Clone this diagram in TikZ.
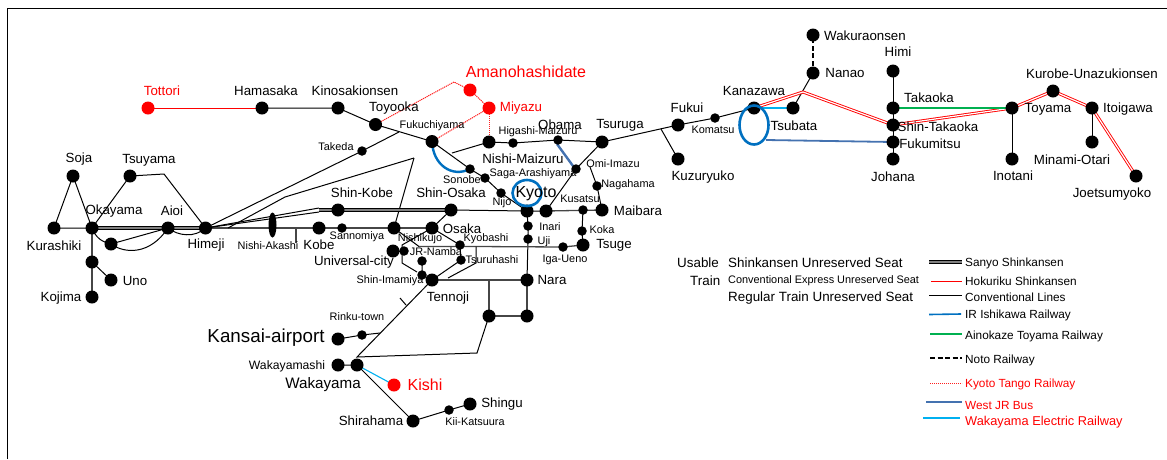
\documentclass[tikz,border=0pt]{standalone}
\usepackage{fontspec}
\setmainfont{Liberation Sans}
\usetikzlibrary{shapes.geometric,backgrounds}
\definecolor{tangored}{RGB}{255,30,30}
\definecolor{ishi}{RGB}{0,112,192}
\definecolor{aino}{RGB}{0,176,80}
\definecolor{wjr}{RGB}{68,114,176}
\definecolor{wakae}{RGB}{0,176,240}
\definecolor{greyline}{RGB}{70,70,70}
\tikzset{
  stbig/.style={circle,fill=black,inner sep=0pt,minimum size=13pt},
  stsmall/.style={circle,fill=black,inner sep=0pt,minimum size=9.5pt},
  stred/.style={circle,fill=red,inner sep=0pt,minimum size=13pt},
  lab/.style={inner sep=0pt,font=\fontsize{13.3}{14}\selectfont},
  labs/.style={inner sep=0pt,font=\fontsize{10.9}{12}\selectfont},
  labb/.style={inner sep=0pt,font=\fontsize{16}{18}\selectfont},
  labr/.style={text=red},
  leg/.style={inner sep=0pt,anchor=west,font=\fontsize{11.8}{13}\selectfont},
  legb/.style={inner sep=0pt,anchor=west,font=\fontsize{13.4}{15}\selectfont},
  conv/.style={draw=black,line width=1pt},
  convg/.style={draw=greyline,line width=1.3pt},
  sanyo/.style={draw=black,line width=.8pt,double=gray,double distance=1.8pt},
  hoku/.style={draw=red,line width=.9pt,double=white,double distance=1.2pt},
  tango/.style={draw=tangored,line width=1pt,dash pattern=on 1.2pt off .8pt},
  noto/.style={draw=black,line width=1.4pt,dash pattern=on 5pt off 2.5pt},
  ishiline/.style={draw=ishi,line width=2.4pt},
  ainoline/.style={draw=aino,line width=2pt},
  busline/.style={draw=wjr,line width=2.4pt},
  elecline/.style={draw=wakae,line width=1.1pt},
  ringb/.style={ellipse,draw=ishi,line width=2.6pt,inner sep=0pt},
  frameline/.style={draw=black,line width=1.6pt},
}
\newcommand{\stb}[3]{\node[stbig] (#1) at (#2,#3) {};}
\newcommand{\sts}[3]{\node[stsmall] (#1) at (#2,#3) {};}
\newcommand{\lbl}[5][lab]{\node[#1] (#2) at (#3,#4) {#5};}
\begin{document}
\begin{tikzpicture}[x=1pt,y=-1pt]
\useasboundingbox (0,0) rectangle (1167,459);
\coordinate (fa) at (7.5,459); \coordinate (fb) at (7.5,8.5); \coordinate (fc) at (1167,8.5);
\draw[frameline] (fa) -- (fb) -- (fc);
% stations
\node[stred] (tottori) at (148,108) {};
\node[stred] (amano) at (470,90) {};
\node[stred] (miyazu) at (489,108) {};
\node[stred] (kishi) at (394,385) {};
\stb{hamasaka}{262}{108} \stb{kinosaki}{338}{108} \stb{toyooka}{375.5}{124.5}
\stb{fukuchi}{432}{141.5} \stb{nishimai}{489}{142} \sts{higashi}{513}{143} \sts{obama}{558}{140}
\stb{tsuruga}{602}{142} \stb{fukui}{678}{125} \sts{komatsu}{715}{118} \stb{kanazawa}{754}{108}
\stb{tsubata}{793}{108} \stb{nanao}{813}{73} \stb{wakura}{813}{35} \stb{kuzu}{678}{159}
\stb{himi}{893}{71} \stb{takaoka}{893}{108} \stb{shintaka}{893}{125} \stb{fukumi}{893}{142} \stb{johana}{893}{159}
\stb{toyama}{1012}{108} \stb{inotani}{1012}{159} \stb{kurobe}{1053}{91} \stb{itoi}{1092}{108}
\stb{minami}{1092}{142} \stb{joetsu}{1136}{176}
\sts{takeda}{362}{151} \sts{sonobe}{470}{169} \sts{saga}{485}{178} \sts{nijo}{501}{193}
\stb{kyoto}{527}{211} \stb{shinosaka}{451}{210} \stb{shinkobe}{338}{210} \stb{kusatsu}{546}{211}
\sts{kusb}{583}{210} \stb{maibara}{602}{210} \sts{nagahama}{597}{186} \sts{omi}{576}{169}
\sts{inari}{528}{226} \sts{uji}{528}{239} \sts{koka}{582}{231} \stb{tsuge}{583}{245} \sts{iga}{563}{247}
\stb{nara}{527}{280} \stb{naras}{527}{316} \stb{narat}{489}{316}
\stb{osaka}{432}{228} \stb{juncn}{394}{228} \sts{sanno}{342}{228} \stb{kobe}{319}{228}
\stb{univ}{393}{251} \sts{nishik}{404}{251} \sts{namba}{422}{261} \sts{imamiya}{422}{275} \stb{tennoji}{432}{280}
\sts{kyobashi}{460}{245} \sts{tsuruha}{461}{260}
\stb{airport}{338}{339} \sts{rinku}{362}{335} \stb{wakashi}{338}{365} \stb{waka}{357}{365}
\stb{shira}{413}{421} \sts{kii}{449}{410} \stb{shingu}{470}{404}
\stb{himeji}{205.5}{228} \stb{aioi}{168}{228} \stb{okayama}{92}{228} \stb{kurashiki}{54}{228}
\stb{soja}{73}{176} \stb{tsuyama}{130}{176} \stb{okb}{111}{244} \stb{okc}{92}{262} \stb{uno}{111}{280} \stb{kojima}{92}{297}
\node[ellipse,fill=black,inner sep=0pt,minimum width=8pt,minimum height=25pt] (nakashi) at (272.5,225) {};
\node[ringb,minimum width=29pt,minimum height=26pt] (kyring) at (527,193) {};
\node[ringb,minimum width=29pt,minimum height=39pt] (kzring) at (754,125) {};
% bends
\coordinate (tbend) at (454,82);
\coordinate (kbend) at (164,174);
\coordinate (jkuzu) at (661,129);
\coordinate (hbend) at (803,92);
\coordinate (jft) at (399,132);
\coordinate (hb1) at (228,228);
\coordinate (hb2) at (285,197);
\coordinate (hb3) at (414,158);
\coordinate (hb4) at (452,153);
\coordinate (s1) at (319,208);
\coordinate (s2) at (319,212);
\coordinate (s3) at (319,210);
\coordinate (nishita) at (296,227);
\coordinate (nishitb) at (296,243);
\coordinate (omij) at (590,167);
\coordinate (l46a) at (419,246.5);
\coordinate (l46b) at (476,246.5);
\coordinate (l46c) at (476,263);
\coordinate (l46d) at (448,278);
\coordinate (nrb) at (489,280);
\coordinate (wk1) at (357,357);
\coordinate (wk2) at (477,353);
\coordinate (tick1) at (400,298);
\coordinate (tick2) at (406,305);
\coordinate (rkj) at (380,333);
\coordinate (o1) at (402,245);
\coordinate (o2) at (402,263);
\coordinate (o3) at (417,272);
\coordinate (wjr1) at (557,144);
\coordinate (wjr2) at (573,166);
\coordinate (blueend) at (766,140);
\begin{scope}[on background layer]
\draw[tango] (toyooka.center) -- (tbend) -- (amano.center) -- (miyazu.center) -- (fukuchi.center);
\draw[tango] (miyazu.center) -- (nishimai.center);
\draw[draw=red,line width=1pt] (tottori.center) -- (hamasaka.center);
\draw[conv] (hamasaka.center) -- (kinosaki.center) -- (toyooka.center) -- (fukuchi.center) -- (sonobe.center) -- (saga.center) -- (nijo.center) -- (kyoto.center);
\draw[conv] (nishimai.center) -- (higashi.center) -- (obama.center) -- (tsuruga.center) -- (fukui.center) -- (komatsu.center) -- (kanazawa.center);
\draw[conv] (jkuzu) -- (kuzu.center);
\draw[conv] (tsuruga.center) -- (omi.center) -- (kusatsu.center);
\draw[conv] (omij) -- (nagahama.center) -- (maibara.center);
\draw[conv] (shinosaka.center) -- (kyoto.center) -- (kusatsu.center);
\draw[convg] (kusatsu.center) -- (maibara.center);
\draw[conv] (kusb.center) -- (koka.center) -- (tsuge.center);
\draw[conv] (kyoto.center) -- (inari.center) -- (uji.center) -- (nara.center);
\draw[convg] (nara.center) -- (naras.center) -- (narat.center);
\draw[convg] (tennoji.center) -- (nara.center);
\draw[convg] (nrb) -- (narat.center);
\draw[conv] (narat.center) -- (wk2) -- (wk1) -- (tennoji.center);
\draw[conv] (tick1) -- (tick2);
\draw[conv] (airport.center) -- (rinku.center) -- (rkj);
\draw[conv] (wakashi.center) -- (waka.center) -- (shira.center) -- (kii.center) -- (shingu.center);
\draw[elecline] (waka.center) -- (kishi.center);
% kinki network
\draw[convg] (himeji.center) -- (kobe.center) -- (sanno.center) -- (juncn.center) -- (osaka.center);
\draw[convg] (nishita) -- (nishitb);
\draw[conv] (osaka.center) -- (shinosaka.center);
\draw[conv] (osaka.center) -- (kyobashi.center) -- (tsuruha.center) -- (tennoji.center);
\draw[conv] (osaka.center) -- (o1) -- (o2) -- (o3);
\draw[conv] (namba.center) -- (imamiya.center) -- (tennoji.center);
\draw[conv] (univ.center) -- (nishik.center);
\draw[conv] (juncn.center) -- (l46a);
\draw[convg] (l46a) -- (l46b) -- (iga.center) -- (tsuge.center);
\draw[conv] (l46b) -- (l46c) -- (l46d);
\draw[conv] (juncn.center) -- (hb3);
\draw[conv] (hb1) -- (hb2) -- (hb3);
\draw[conv] (hb4) -- (nishimai.center);
\draw[conv] (himeji.center) -- (takeda.center) -- (jft);
% west of Himeji
\draw[conv] (kurashiki.center) -- (okayama.center) -- (soja.center) -- (kurashiki.center);
\draw[conv] (okayama.center) -- (tsuyama.center) -- (kbend) -- (himeji.center);
\draw[conv] (okayama.center) .. controls (96,238) and (102,242) .. (okb.center);
\draw[conv] (okb.center) -- (aioi.center);
\draw[conv] (okb.center) .. controls (125,254) and (150,255) .. (aioi.center);
\draw[conv] (aioi.center) .. controls (178,236) and (195,238) .. (himeji.center);
\draw[convg] (okayama.center) -- (okc.center) -- (kojima.center);
\draw[conv] (okc.center) -- (uno.center);
% shinkansen
\draw[sanyo] (okayama.center) -- (himeji.center);
\draw[conv] (himeji.center) -- (s1);
\draw[conv] (himeji.center) -- (s2);
\draw[sanyo] (s3) -- (shinkobe.center) -- (shinosaka.center);
\draw[conv] (tsubata.center) -- (nanao.center);
\draw[noto] (nanao.center) -- (wakura.center);
\draw[conv] (himi.center) -- (takaoka.center) -- (shintaka.center) -- (fukumi.center) -- (johana.center);
\draw[conv] (toyama.center) -- (inotani.center);
\draw[conv] (itoi.center) -- (minami.center);
\draw[hoku] (kanazawa.center) -- (hbend) -- (shintaka.center) -- (toyama.center) -- (kurobe.center) -- (itoi.center) -- (joetsu.center);
\draw[ainoline] (takaoka.center) -- (toyama.center);
\draw[elecline,line width=1.9pt] (kanazawa.center) -- (tsubata.center);
\draw[busline,line width=1.8pt] (blueend) -- (fukumi.center);
\draw[busline] (wjr1) -- (wjr2);
\draw[ishiline] (fukuchi.center) .. controls (433,165) and (452,178) .. (sonobe.center);
\end{scope}
% labels
\lbl[lab,labr]{ltottori}{162}{91}{Tottori}
\lbl{lhamasaka}{266}{91}{Hamasaka}
\lbl{lkinosaki}{355}{91}{Kinosakionsen}
\lbl{ltoyooka}{394}{108}{Toyooka}
\lbl[labs]{lfukuchi}{432}{126}{Fukuchiyama}
\lbl[labb,labr]{lamano}{526}{72}{Amanohashidate}
\lbl[lab,labr]{lmiyazu}{521}{108}{Miyazu}
\lbl[labs]{lhigashi}{538}{132}{Higashi-Maizuru}
\lbl{lobama}{560}{125}{Obama}
\lbl{ltsuruga}{620}{125}{Tsuruga}
\lbl{lnishimai}{523}{159}{Nishi-Maizuru}
\lbl[labs]{lomi}{613}{164}{Omi-Imazu}
\lbl[labs]{lnagahama}{628}{185}{Nagahama}
\lbl[labs]{lsaga}{533}{174}{Saga-Arashiyama}
\lbl[labs]{lsonobe}{462}{180}{Sonobe}
\lbl{lshinosaka}{451}{193}{Shin-Osaka}
\lbl{lshinkobe}{362}{193}{Shin-Kobe}
\lbl[labs]{lnijo}{502}{203}{Nijo}
\lbl[labb]{lkyoto}{536}{194}{Kyoto}
\lbl[labs]{lkusatsu}{580}{199}{Kusatsu}
\lbl{lmaibara}{638}{211}{Maibara}
\lbl[labs]{linari}{550}{227}{Inari}
\lbl[labs]{luji}{544}{242}{Uji}
\lbl[labs]{lkoka}{602}{230}{Koka}
\lbl{ltsuge}{614}{245}{Tsuge}
\lbl[labs]{liga}{565}{260}{Iga-Ueno}
\lbl{lnara}{552}{280}{Nara}
\lbl{losaka}{462}{229}{Osaka}
\lbl[labs]{lkyobashi}{486}{239}{Kyobashi}
\lbl[labs]{lnishik}{420}{239}{Nishikujo}
\lbl[labs]{lnamba}{436}{252}{JR-Namba}
\lbl[labs]{ltsuruha}{492}{260}{Tsuruhashi}
\lbl[labs]{limamiya}{390}{281}{Shin-Imamiya}
\lbl{ltennoji}{448}{298}{Tennoji}
\lbl{luniv}{354}{262}{Universal-city}
\lbl[labs]{lsanno}{357}{237}{Sannomiya}
\lbl{lkobe}{319}{245}{Kobe}
\lbl[labs]{lnakashi}{268}{246}{Nishi-Akashi}
\lbl{lhimeji}{206}{245}{Himeji}
\lbl{laioi}{172}{211}{Aioi}
\lbl{lokayama}{114}{211}{Okayama}
\lbl{lkurashiki}{54}{246}{Kurashiki}
\lbl{lsoja}{79}{159}{Soja}
\lbl{ltsuyama}{149}{160}{Tsuyama}
\lbl{luno}{135}{281}{Uno}
\lbl{lkojima}{61}{298}{Kojima}
\lbl[labs]{ltakeda}{336}{147}{Takeda}
\lbl[labs]{lrinku}{357}{317}{Rinku-town}
\node[labb,font=\fontsize{18.8}{20}\selectfont] (lairport) at (266,338) {Kansai-airport};
\node[labs,font=\fontsize{12.2}{13}\selectfont] (lwakashi) at (287,366) {Wakayamashi};
\node[labb,font=\fontsize{15.2}{17}\selectfont] (lwaka) at (323,385) {Wakayama};
\lbl[labb,labr]{lkishi}{425}{385}{Kishi}
\lbl{lshingu}{502}{404}{Shingu}
\lbl[labs]{lkii}{475}{422}{Kii-Katsuura}
\lbl{lshira}{371}{421}{Shirahama}
\lbl{lwakura}{865}{36}{Wakuraonsen}
\lbl{lhimi}{898}{52}{Himi}
\lbl{lnanao}{845}{73}{Nanao}
\lbl{lkanazawa}{754}{91}{Kanazawa}
\lbl{lfukui}{687}{108}{Fukui}
\lbl[labs]{lkomatsu}{713}{130}{Komatsu}
\lbl{ltsubata}{794}{126}{Tsubata}
\lbl{ltakaoka}{929}{98}{Takaoka}
\lbl{lshintaka}{938}{127}{Shin-Takaoka}
\lbl{lfukumi}{930}{144}{Fukumitsu}
\lbl{lkuzu}{703}{177}{Kuzuryuko}
\lbl{ljohana}{893}{177}{Johana}
\lbl{ltoyama}{1048}{109}{Toyama}
\lbl{lkurobe}{1092}{74}{Kurobe-Unazukionsen}
\lbl{litoi}{1128}{109}{Itoigawa}
\lbl{lminami}{1072}{160}{Minami-Otari}
\lbl{linotani}{1013}{176}{Inotani}
\lbl{ljoetsu}{1112}{194}{Joetsumyoko}
% legend text
\node[legb] (lgusable) at (677,263) {Usable};
\node[legb] (lgtrain) at (690,281) {Train};
\node[legb] (lgshin) at (728,263) {Shinkansen Unreserved Seat};
\node[leg,font=\fontsize{10.9}{12}\selectfont] (lgconv) at (728,281) {Conventional Express Unreserved Seat};
\node[legb] (lgreg) at (728,298.5) {Regular Train Unreserved Seat};
\node[leg] (t1) at (965,263) {Sanyo Shinkansen};
\node[leg] (t2) at (965,281) {Hokuriku Shinkansen};
\node[leg] (t3) at (965,297) {Conventional Lines};
\node[leg] (t4) at (965,315) {IR Ishikawa Railway};
\node[leg] (t5) at (965,336) {Ainokaze Toyama Railway};
\node[leg] (t6) at (965,360) {Noto Railway};
\node[leg,text=red] (t7) at (965,384) {Kyoto Tango Railway};
\node[leg,text=red] (t8) at (965,405) {West JR Bus};
\node[leg,text=red,font=\fontsize{12.8}{14}\selectfont] (t9) at (965,422) {Wakayama Electric Railway};
% legend lines
\coordinate (a1) at (929,262); \coordinate (b1) at (962,262);
\coordinate (a2) at (931,280); \coordinate (b2) at (962,280);
\coordinate (a3) at (929,295); \coordinate (b3) at (962,295);
\coordinate (a4) at (929,314.5); \coordinate (b4) at (961,314);
\coordinate (a5) at (930,334); \coordinate (b5) at (962,334);
\coordinate (a6) at (930,358); \coordinate (b6) at (962,358);
\coordinate (a7) at (930,383); \coordinate (b7) at (962,383);
\coordinate (a8) at (926,402); \coordinate (b8) at (962,402);
\coordinate (a9) at (923,418); \coordinate (b9) at (960,418);
\draw[sanyo] (a1) -- (b1);
\draw[hoku] (a2) -- (b2);
\draw[conv] (a3) -- (b3);
\draw[ishiline,line width=1.6pt] (a4) -- (b4);
\draw[ainoline,line width=1.6pt] (a5) -- (b5);
\draw[noto] (a6) -- (b6);
\draw[tango] (a7) -- (b7);
\draw[busline] (a8) -- (b8);
\draw[elecline] (a9) -- (b9);
\end{tikzpicture}
\end{document}
